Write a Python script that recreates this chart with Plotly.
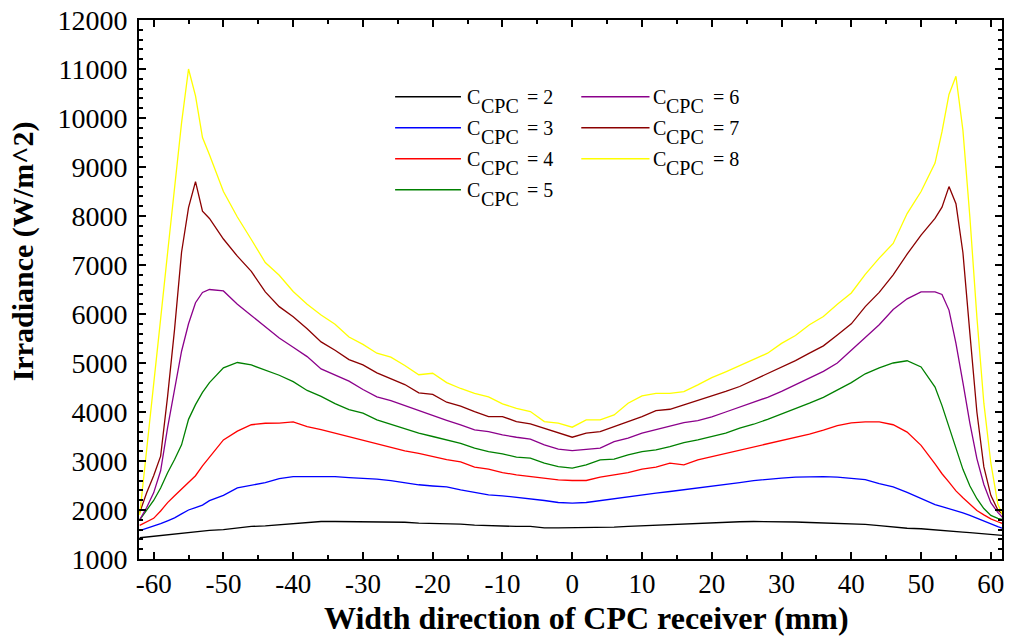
import plotly.graph_objects as go

# ---------------- data ----------------
x_mm = [-62, -61, -60, -59, -58, -57, -56, -55, -54, -53, -52, -50, -48, -46, -44, -42, -40, -38, -36, -34,
        -32, -30, -28, -26, -24, -22, -20, -18, -16, -14, -12, -10, -8, -6, -4, -2, 0, 2, 4, 6, 8, 10, 12,
        14, 16, 18, 20, 22, 24, 26, 28, 30, 32, 34, 36, 38, 40, 42, 44, 46, 48, 50, 52, 53, 54, 55, 56, 57,
        58, 59, 60, 61, 62]

c2 = [1434, 1450, 1465, 1480, 1495, 1510, 1525, 1540, 1560, 1575, 1585, 1600, 1635, 1664, 1677, 1700, 1720,
      1740, 1765, 1765, 1765, 1765, 1760, 1755, 1750, 1731, 1725, 1718, 1712, 1691, 1678, 1678, 1664, 1664,
      1637, 1637, 1637, 1637, 1644, 1651, 1664, 1678, 1691, 1691, 1719, 1732, 1740, 1750, 1760, 1765, 1765,
      1760, 1755, 1745, 1735, 1730, 1722, 1705, 1680, 1650, 1628, 1617, 1590, 1578, 1568, 1560, 1550, 1540,
      1528, 1515, 1503, 1490, 1478]

c3 = [1577, 1620, 1670, 1720, 1780, 1840, 1920, 2000, 2050, 2100, 2190, 2300, 2450, 2510, 2560, 2640, 2683,
      2683, 2683, 2683, 2662, 2650, 2630, 2600, 2550, 2515, 2490, 2470, 2410, 2357, 2310, 2289, 2262, 2221,
      2194, 2153, 2140, 2153, 2194, 2221, 2262, 2310, 2344, 2378, 2412, 2446, 2480, 2520, 2560, 2600, 2630,
      2650, 2670, 2680, 2680, 2670, 2650, 2620, 2540, 2470, 2360, 2240, 2110, 2070, 2030, 1985, 1940, 1890,
      1830, 1780, 1720, 1660, 1610]

c4 = [1685, 1750, 1830, 1980, 2150, 2290, 2430, 2560, 2700, 2900, 3080, 3430, 3610, 3740, 3770, 3775, 3800,
      3700, 3640, 3565, 3490, 3420, 3345, 3275, 3205, 3155, 3090, 3030, 2980, 2874, 2833, 2765, 2717, 2683,
      2649, 2615, 2602, 2602, 2670, 2717, 2765, 2833, 2874, 2955, 2921, 3023, 3090, 3150, 3220, 3290, 3350,
      3420, 3480, 3550, 3630, 3720, 3780, 3800, 3800, 3740, 3590, 3320, 2940, 2740, 2570, 2390, 2250, 2110,
      1990, 1900, 1820, 1760, 1710]

c5 = [1800, 2000, 2195, 2450, 2760, 3030, 3330, 3850, 4150, 4400, 4600, 4900, 5010, 4960, 4860, 4750, 4620,
      4440, 4320, 4170, 4050, 3975, 3840, 3750, 3660, 3570, 3500, 3430, 3360, 3261, 3193, 3146, 3078, 3057,
      2955, 2887, 2853, 2921, 3023, 3037, 3125, 3193, 3227, 3295, 3377, 3431, 3500, 3570, 3670, 3750, 3850,
      3960, 4060, 4180, 4300, 4450, 4600, 4780, 4900, 5000, 5046, 4920, 4510, 4130, 3700, 3230, 2830, 2490,
      2230, 2030, 1890, 1830, 1790]

c6 = [1800, 2050, 2350, 2800, 3680, 4460, 5240, 5800, 6230, 6440, 6500, 6470, 6200, 5970, 5740, 5510, 5320,
      5130, 4880, 4750, 4630, 4460, 4310, 4230, 4130, 4020, 3930, 3830, 3737, 3635, 3601, 3533, 3485, 3445,
      3329, 3241, 3213, 3241, 3261, 3397, 3465, 3567, 3635, 3703, 3784, 3825, 3900, 4000, 4100, 4200, 4300,
      4420, 4560, 4700, 4830, 5000, 5250, 5520, 5780, 6090, 6310, 6450, 6453, 6400, 6080, 5400, 4600, 3770,
      3050, 2520, 2150, 1950, 1800]

c7 = [1950, 2350, 2700, 3100, 4320, 5690, 7260, 8170, 8700, 8100, 7950, 7530, 7180, 6870, 6450, 6150, 5945,
      5700, 5430, 5260, 5070, 4960, 4800, 4680, 4560, 4390, 4360, 4200, 4120, 4009, 3907, 3907, 3805, 3757,
      3669, 3567, 3485, 3567, 3601, 3703, 3805, 3907, 4029, 4056, 4144, 4233, 4330, 4420, 4520, 4650, 4780,
      4920, 5050, 5200, 5350, 5570, 5800, 6150, 6440, 6800, 7220, 7610, 7950, 8180, 8600, 8250, 7250, 5600,
      4000, 2880, 2300, 2000, 1880]

c8 = [1900, 3200, 4550, 5900, 7250, 8600, 9900, 11000, 10450, 9600, 9250, 8500, 7980, 7520, 7050, 6790, 6460,
      6200, 5980, 5790, 5530, 5380, 5200, 5120, 4950, 4760, 4790, 4600, 4480, 4380, 4310, 4165, 4076, 4009,
      3805, 3771, 3690, 3839, 3839, 3941, 4178, 4328, 4382, 4382, 4416, 4552, 4700, 4820, 4950, 5080, 5200,
      5400, 5560, 5780, 5950, 6200, 6430, 6809, 7140, 7440, 8050, 8500, 9080, 9720, 10480, 10850, 9750, 7970,
      5940, 4180, 2960, 2120, 1800]

series_names = ["2", "3", "4", "5", "6", "7", "8"]
series_values = [c2, c3, c4, c5, c6, c7, c8]
series_colors = ["#000000", "#0000ff", "#ff0000", "#008000", "#8b008b", "#8b0000", "#ffff00"]

x_ticks = [-60, -50, -40, -30, -20, -10, 0, 10, 20, 30, 40, 50, 60]
x_tick_labels = ["-60", "-50", "-40", "-30", "-20", "-10", "0", "10", "20", "30", "40", "50", "60"]
y_ticks = [1000, 2000, 3000, 4000, 5000, 6000, 7000, 8000, 9000, 10000, 11000, 12000]
y_tick_labels = ["1000", "2000", "3000", "4000", "5000", "6000", "7000", "8000", "9000", "10000",
                 "11000", "12000"]

# ---------------- layout constants (pixels) ----------------
W, H = 1009, 639
L, R, T, B = 139, 1004, 19, 559
PW, PH = R - L, B - T
SERIF = "Liberation Serif"


def px2x(px):
    return (px - L) / PW


def py2y(py):
    return (B - py) / PH


fig = go.Figure()
for name, vals, col in zip(series_names, series_values, series_colors):
    fig.add_trace(go.Scatter(x=x_mm, y=vals, mode="lines", name="C_CPC = " + name,
                             line=dict(color=col, width=1.3), showlegend=False))

# ---------------- manual legend ----------------
leg_line_x = [(395.7, 461.7), (582.3, 650.7)]
leg_text_x = [468, 654]
leg_rows_y = [96, 127, 158, 189]
shapes = []
annotations = []
leg_font = dict(family=SERIF, size=20, color="black")
for i, (name, col) in enumerate(zip(series_names, series_colors)):
    c = 0 if i < 4 else 1
    r = i if i < 4 else i - 4
    yy = py2y(leg_rows_y[r])
    shapes.append(dict(type="line", xref="paper", yref="paper",
                       x0=px2x(leg_line_x[c][0]), x1=px2x(leg_line_x[c][1]), y0=yy, y1=yy,
                       line=dict(color=col, width=1.5)))
    tx = leg_text_x[c]
    annotations.append(dict(text="C", xref="paper", yref="paper", x=px2x(tx - 2), y=yy,
                            xanchor="left", yanchor="middle", showarrow=False, font=leg_font))
    annotations.append(dict(text="CPC", xref="paper", yref="paper", x=px2x(tx + 11.5), y=yy,
                            yshift=-9, xanchor="left", yanchor="middle", showarrow=False, font=leg_font))
    annotations.append(dict(text="= " + name, xref="paper", yref="paper", x=px2x(tx + 58), y=yy,
                            xanchor="left", yanchor="middle", showarrow=False, font=leg_font))

# axis titles
annotations.append(dict(text="<b>Irradiance (W/m^2)</b>", xref="paper", yref="paper",
                        x=px2x(22.5), y=py2y(251), textangle=-90, xanchor="center", yanchor="middle",
                        showarrow=False, font=dict(family=SERIF, size=30, color="black")))
annotations.append(dict(text="<b>Width direction of CPC receiver (mm)</b>", xref="paper", yref="paper",
                        x=px2x(588), y=py2y(618), xanchor="center", yanchor="middle",
                        showarrow=False, font=dict(family=SERIF, size=32, color="black")))

axis_common = dict(showline=True, linecolor="black", linewidth=2, mirror="ticks", ticks="inside",
                   ticklen=7, tickwidth=1.5, tickcolor="black", showgrid=False, zeroline=False)

fig.update_layout(
    width=W, height=H,
    margin=dict(l=L, r=W - R, t=T, b=H - B, pad=0),
    paper_bgcolor="white", plot_bgcolor="white",
    showlegend=False,
    shapes=shapes, annotations=annotations,
    xaxis=dict(range=[-62.1, 61.6], tickmode="array", tickvals=x_ticks, ticktext=x_tick_labels,
               ticklabelstandoff=0, tickfont=dict(family=SERIF, size=27, color="black"),
               minor=dict(ticks="inside", ticklen=4, tickwidth=1.5, tickcolor="black", dtick=5, tick0=0),
               **axis_common),
    yaxis=dict(range=[1000, 12000], tickmode="array", tickvals=y_ticks, ticktext=y_tick_labels,
               ticklabelstandoff=4, tickfont=dict(family=SERIF, size=28, color="black"),
               minor=dict(ticks="inside", ticklen=4, tickwidth=1.5, tickcolor="black", dtick=200, tick0=0),
               **axis_common),
)

fig.write_html("out.html")
